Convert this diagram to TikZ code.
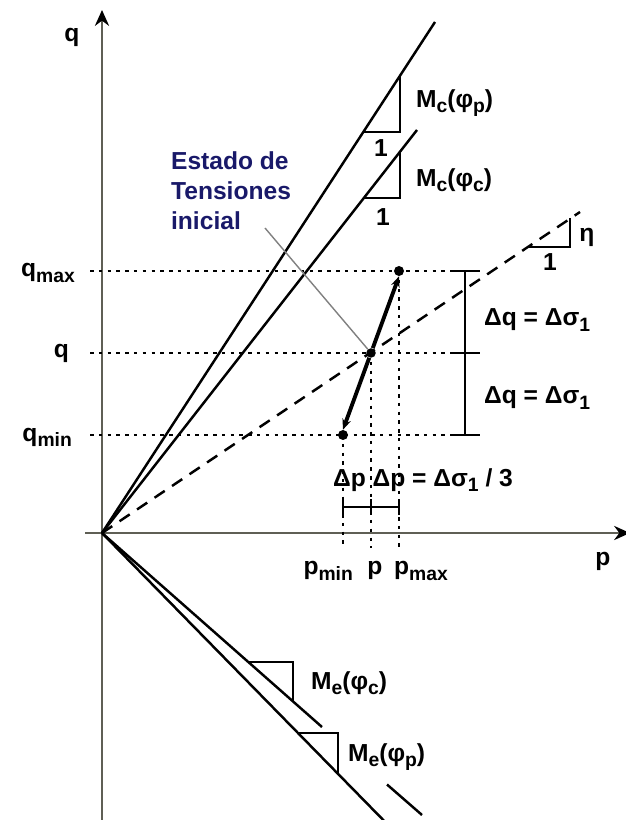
\documentclass[tikz,border=0pt]{standalone}
\usepackage{fontspec}
\setmainfont{Liberation Sans}
\usetikzlibrary{arrows.meta,positioning,calc}
\definecolor{estado}{RGB}{25,25,105}
\definecolor{axisgray}{RGB}{95,95,85}
\newcommand\lowtxt[1]{\raisebox{-0.4ex}{\fontsize{11}{12}\selectfont #1}}

\begin{document}
\begin{tikzpicture}[
    lbl/.style={font=\bfseries\fontsize{14}{17}\selectfont, inner sep=1pt},
    axis/.style={draw=axisgray, line width=1.7pt},
    envelope/.style={line width=1.4pt},
    guide/.style={line width=1.6pt, dash pattern=on 2pt off 3pt},
    slope/.style={line width=1.2pt},
    stateline/.style={line width=2.2pt},
    dot/.style={circle, fill, inner sep=0pt, minimum size=#1},
    dot/.default=2mm,
    >=Stealth
]
    \useasboundingbox (-2.04,-5.74) rectangle (10.46,10.66);

    % Axes
    \coordinate (O) at (0,0);
    \draw[axis, -{Stealth[black, length=9pt, width=8pt]}] (0,-5.9) -- (0,10.46);
    \draw[axis, -{Stealth[black, length=9pt, width=8pt]}] (-0.34,0) -- (10.56,0);
    \node[lbl] (qaxis) at (-0.6,9.92) {q};
    \node[lbl] (paxis) at (10.02,-0.56) {p};

    % Critical state lines (compression)
    \coordinate (mcp) at (6.66,10.22);
    \coordinate (mcc) at (6.30,8.06);
    \draw[envelope] (O) -- (mcp);
    \draw[envelope] (O) -- (mcc);
    \draw[slope] (5.22,8.02) -- (5.96,8.02) -- (5.96,9.14);
    \draw[slope] (5.24,6.70) -- (5.96,6.70) -- (5.96,7.62);
    \node[lbl] (one1) at (5.58,7.70) {1};
    \node[lbl] (one2) at (5.62,6.32) {1};
    \node[lbl, anchor=west] (mcplbl) at (6.24,8.60) {M\lowtxt{c}(φ\lowtxt{p})};
    \node[lbl, anchor=west] (mcclbl) at (6.24,7.06) {M\lowtxt{c}(φ\lowtxt{c})};

    % Stress path eta
    \coordinate (eta) at (9.56,6.42);
    \draw[envelope, dash pattern=on 7pt off 5pt] (O) -- (eta);
    \draw[slope] (8.52,5.72) -- (9.36,5.72) -- (9.36,6.29);
    \node[lbl] (etalbl) at (9.70,5.92) {η};
    \node[lbl] (one3) at (8.96,5.42) {1};

    % Extension lines
    \coordinate (mec) at (4.40,-3.88);
    \coordinate (mep) at (5.86,-5.98);
    \draw[envelope] (O) -- (mec);
    \draw[envelope] (5.70,-5.03) -- (6.40,-5.64);
    \draw[envelope] (O) -- (mep);
    \draw[slope] (2.93,-2.58) -- (3.82,-2.58) -- (3.82,-3.37);
    \draw[slope] (3.92,-4.00) -- (4.72,-4.00) -- (4.72,-4.81);
    \node[lbl, anchor=west] (meclbl) at (4.14,-3.00) {M\lowtxt{e}(φ\lowtxt{c})};
    \node[lbl, anchor=west] (meplbl) at (4.88,-4.48) {M\lowtxt{e}(φ\lowtxt{p})};

    % Reference levels
    \draw[guide] (-0.24,5.24) -- (7.56,5.24);
    \draw[guide] (-0.24,3.60) -- (7.56,3.60);
    \draw[guide] (-0.24,1.96) -- (7.56,1.96);
    \draw[guide] (4.82,1.96) -- (4.82,-0.30);
    \draw[guide] (5.38,3.60) -- (5.38,-0.30);
    \draw[guide] (5.94,5.24) -- (5.94,-0.30);
    \node[lbl, anchor=east] (qmaxlbl) at (-0.50,5.20) {q\lowtxt{max}};
    \node[lbl, anchor=east] (qlbl) at (-0.62,3.60) {q};
    \node[lbl, anchor=east] (qminlbl) at (-0.56,1.92) {q\lowtxt{min}};
    \node[lbl, anchor=base east] (pminlbl) at (5.06,-0.84) {p\lowtxt{min}};
    \node[lbl, anchor=base] (plbl) at (5.46,-0.84) {p};
    \node[lbl, anchor=base west] (pmaxlbl) at (5.80,-0.84) {p\lowtxt{max}};

    % Loading path
    \node[dot] (qmaxpt) at (5.94,5.24) {};
    \node[dot=1.9mm] (qpt) at (5.38,3.60) {};
    \node[dot] (qminpt) at (4.82,1.96) {};
    \draw[stateline, -{Stealth[length=6pt, width=5pt]}] (qpt) -- (qmaxpt.south);
    \draw[stateline, -{Stealth[length=6pt, width=5pt]}] (qpt) -- (qminpt.north);

    % Increments
    \draw[slope] (7.26,5.24) -- (7.26,1.96);
    \draw[slope] (7.00,5.24) -- (7.56,5.24);
    \draw[slope] (7.00,3.60) -- (7.56,3.60);
    \draw[slope] (7.00,1.96) -- (7.56,1.96);
    \node[lbl, anchor=west] (dq1) at (7.60,4.26) {Δq = Δσ\lowtxt{1}};
    \node[lbl, anchor=west] (dq2) at (7.60,2.70) {Δq = Δσ\lowtxt{1}};
    \draw[slope] (4.82,0.52) -- (5.94,0.52);
    \draw[slope] (4.82,0.36) -- (4.82,0.68);
    \draw[slope] (5.38,0.36) -- (5.38,0.68);
    \draw[slope] (5.94,0.36) -- (5.94,0.68);
    \node[lbl, anchor=west] (dp) at (4.58,1.06) {Δp Δp = Δσ\lowtxt{1} / 3};

    % Initial state
    \node[lbl, text=estado, align=left, anchor=west] (estado) at (1.34,6.84) {Estado de\\Tensiones\\inicial};
    \coordinate (lead) at (3.26,6.10);
    \draw[gray, line width=0.8pt] (lead) -- (qpt);
\end{tikzpicture}
\end{document}
